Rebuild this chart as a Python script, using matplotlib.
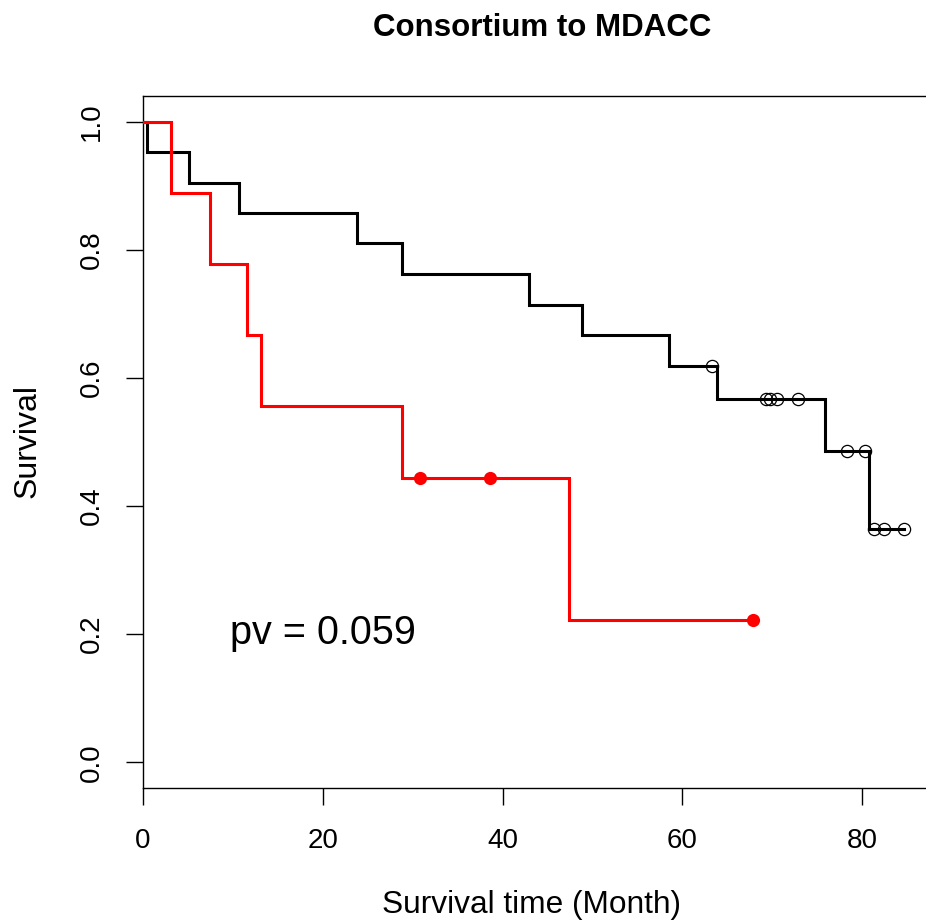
import matplotlib
matplotlib.use("Agg")
import matplotlib.pyplot as plt

plt.rcParams['font.family'] = ['Liberation Sans', 'DejaVu Sans']

# ---- data ----
black_step_times = [0, 0.5, 5.1, 10.65, 23.8, 28.8, 43.0, 48.8, 58.5, 63.9, 75.9, 80.8, 84.7]
black_surv = [1.0, 0.952, 0.905, 0.857, 0.810, 0.762, 0.714, 0.667, 0.619, 0.567, 0.486, 0.365, 0.365]
black_censor_times = [63.3, 69.3, 69.8, 70.5, 72.9, 78.3, 80.3, 81.3, 82.5, 84.7]
black_censor_surv = [0.619, 0.567, 0.567, 0.567, 0.567, 0.486, 0.486, 0.365, 0.365, 0.365]

red_step_times = [0, 3.1, 7.5, 11.6, 13.1, 28.8, 47.4, 67.9]
red_surv = [1.0, 0.889, 0.778, 0.667, 0.556, 0.444, 0.222, 0.222]
red_censor_times = [30.8, 38.6, 67.9]
red_censor_surv = [0.444, 0.444, 0.222]

x_ticks = [0, 20, 40, 60, 80]
y_ticks = [0.0, 0.2, 0.4, 0.6, 0.8, 1.0]
y_tick_labels = ["0.0", "0.2", "0.4", "0.6", "0.8", "1.0"]

title = "Consortium to MDACC"
xlabel = "Survival time (Month)"
ylabel = "Survival"
pv_text = "pv = 0.059"

# ---- figure ----
W, H = 926, 922
fig = plt.figure(figsize=(W / 100, H / 100), dpi=100)

left_px, right_px, top_px, bottom_px = 143, 937.5, 96, 788
ax = fig.add_axes([left_px / W, 1 - bottom_px / H,
                   (right_px - left_px) / W, (bottom_px - top_px) / H])
ax.set_xlim(0, 88.4)
ax.set_ylim(-0.04, 1.04)

lw = 2.2
ax.step(black_step_times, black_surv, where='post', color='black', lw=lw,
        solid_joinstyle='miter', zorder=3)
ax.plot(black_censor_times, black_censor_surv, linestyle='none', marker='o',
        ms=8.8, mfc='none', mec='black', mew=0.9, zorder=4)

ax.step(red_step_times, red_surv, where='post', color='#ff0000', lw=lw,
        solid_joinstyle='miter', zorder=5)
ax.plot(red_censor_times, red_censor_surv, linestyle='none', marker='o',
        ms=9.5, mfc='#ff0000', mec='#ff0000', mew=0, zorder=6)

ax.text(20, 0.1845, pv_text, ha='center', va='baseline', fontsize=28.5)

for s in ['left', 'bottom', 'top']:
    ax.spines[s].set_linewidth(1.0)
    ax.spines[s].set_color('black')
ax.spines['right'].set_visible(False)

ax.set_xticks(x_ticks)
ax.set_xticklabels([str(v) for v in x_ticks])
ax.set_yticks(y_ticks)
ax.set_yticklabels(y_tick_labels, rotation=90, va='center')
ax.tick_params(axis='both', length=12.2, width=1.0, labelsize=20, direction='out')
ax.tick_params(axis='x', pad=16.5)
ax.tick_params(axis='y', pad=15)

fig.text(542 / W, 1 - 36 / H, title, ha='center', va='baseline',
         fontsize=22.5, fontweight='bold')
fig.text(531 / W, 1 - 913 / H, xlabel, ha='center', va='baseline', fontsize=22.8)
fig.text(35.7 / W, 1 - 441 / H, ylabel, ha='center', va='baseline', rotation=90,
         fontsize=23, rotation_mode='anchor')

fig.savefig("out.png", dpi=100)
